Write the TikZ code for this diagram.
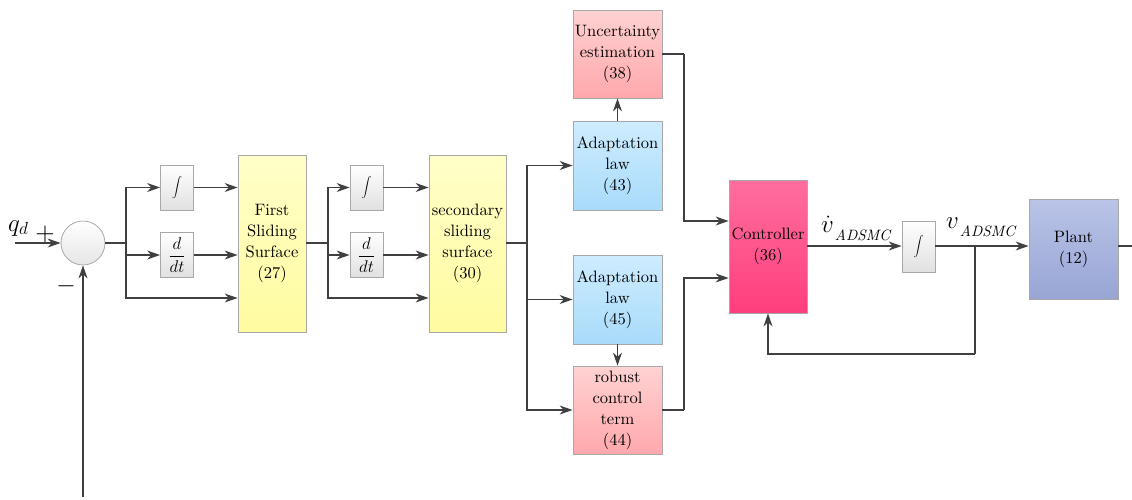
\RequirePackage{fix-cm}
\documentclass[tikz,border=0pt]{standalone}
\usepackage{fontspec}
\setmainfont{lmroman10}[Extension=.otf, UprightFont=*-regular, ItalicFont=*-italic, BoldFont=*-bold]
\usetikzlibrary{arrows.meta}
\definecolor{ln}{HTML}{404040}
\definecolor{bd}{HTML}{A8A8A8}
\tikzset{
  blk/.style={rectangle, draw=bd, line width=0.8pt, inner sep=0pt, align=center,
    font=\fontsize{16.5}{21}\selectfont, text=black},
  smallb/.style={blk, top color=white, bottom color=black!12, minimum width=33pt, minimum height=45pt},
  yel/.style={blk, top color={rgb,255:red,255;green,255;blue,200}, bottom color={rgb,255:red,255;green,251;blue,160}},
  pnk/.style={blk, top color={rgb,255:red,255;green,210;blue,210}, bottom color={rgb,255:red,255;green,168;blue,172}},
  blu/.style={blk, top color={rgb,255:red,206;green,236;blue,255}, bottom color={rgb,255:red,168;green,219;blue,250}},
  mag/.style={blk, top color={rgb,255:red,255;green,110;blue,158}, bottom color={rgb,255:red,255;green,62;blue,126}},
  plt/.style={blk, top color={rgb,255:red,186;green,196;blue,232}, bottom color={rgb,255:red,152;green,165;blue,212}},
  arr/.style={draw=ln, line width=1.3pt, -{Stealth[length=13pt,width=9pt]}},
  wire/.style={draw=ln, line width=1.3pt},
  lbl/.style={inner sep=0pt, font=\fontsize{25}{30}\selectfont}
}
\newcommand{\myint}{\normalsize$\displaystyle\int$}
\newcommand{\myddt}{\fontsize{17}{20}\selectfont$\displaystyle\frac{d}{dt}$}
\newcommand{\subtxt}[1]{\fontsize{15}{16}\selectfont\textit{#1}}
\begin{document}
\begin{tikzpicture}[x=1pt,y=-1pt]
\useasboundingbox (0,0) rectangle (1132,499);
% blocks
\node[circle, draw=bd, line width=0.8pt, top color=white, bottom color=black!10, minimum size=44pt, inner sep=0pt] (sum) at (83,243) {};
\node[smallb] (int1) at (177,187.5) {\myint};
\node[smallb] (dd1) at (177,255) {\myddt};
\node[yel, minimum width=68pt, minimum height=177pt] (fss) at (272,243.5) {First\\Sliding\\Surface\\(27)};
\node[smallb] (int2) at (366.5,187.5) {\myint};
\node[smallb] (dd2) at (366.5,255) {\myddt};
\node[yel, minimum width=77pt, minimum height=177pt] (sss) at (467.5,243.5) {secondary\\sliding\\surface\\(30)};
\node[pnk, minimum width=89pt, minimum height=88pt] (unc) at (617.5,54) {Uncertainty\\estimation\\(38)};
\node[blu, minimum width=89pt, minimum height=89pt] (ad43) at (617.5,165.5) {Adaptation\\law\\(43)};
\node[blu, minimum width=89pt, minimum height=89pt] (ad45) at (617.5,299.5) {Adaptation\\law\\(45)};
\node[pnk, minimum width=89pt, minimum height=88pt] (rob) at (617.5,410) {robust\\control\\term\\(44)};
\node[mag, minimum width=78pt, minimum height=133pt] (ctrl) at (768,246.5) {Controller\\(36)};
\node[smallb, minimum height=51pt] (int3) at (918.5,246.5) {\myint};
\node[plt, minimum width=89pt, minimum height=100pt] (plant) at (1073.5,249) {Plant\\(12)};
% coordinates
\coordinate (in) at (15,243);
\coordinate (fb) at (83,497);
\coordinate (b1) at (126,243);
\coordinate (b2) at (328,243);
\coordinate (b3) at (527,243);
\coordinate (ua) at (684,54);
\coordinate (ra) at (684,410);
\coordinate (b4) at (975,246);
\coordinate (fbb) at (975,354);
\coordinate (out) at (1132,246);
% labels
\node[lbl, anchor=base west] (qd) at (8,231) {$q_d$};
\node[lbl, anchor=base] (plus) at (45,240) {+};
\node[lbl, anchor=base] (minus) at (66,292) {$-$};
\node[lbl, anchor=base west] (vd) at (821,232) {$\dot{v}$\hspace{1pt}\raisebox{-8pt}{\subtxt{ADSMC}}};
\node[lbl, anchor=base west] (vv) at (946,228) {$v$\hspace{1pt}\raisebox{-8pt}{\subtxt{ADSMC}}};
% connectors
\draw[arr] (in) -- (sum.west);
\draw[arr] (fb) -- (sum.south);
\draw[wire] (sum.east) -- (b1);
\draw[arr] (b1) |- (int1.west);
\draw[arr] (b1) |- (dd1.west);
\draw[arr] (b1) |- (fss.west |- 0,298);
\draw[arr] (int1.east) -- (int1.east -| fss.west);
\draw[arr] (dd1.east) -- (dd1.east -| fss.west);
\draw[wire] (fss.east |- b2) -- (b2);
\draw[arr] (b2) |- (int2.west);
\draw[arr] (b2) |- (dd2.west);
\draw[arr] (b2) |- (sss.west |- 0,298);
\draw[arr] (int2.east) -- (int2.east -| sss.west);
\draw[arr] (dd2.east) -- (dd2.east -| sss.west);
\draw[wire] (sss.east |- b3) -- (b3);
\draw[arr] (b3) |- (ad43.west);
\draw[arr] (b3) |- (ad45.west);
\draw[arr] (b3) |- (rob.west);
\draw[arr] (ad43.north) -- (unc.south);
\draw[arr] (ad45.south) -- (rob.north);
\draw[wire] (unc.east |- ua) -- (ua);
\draw[arr] (ua) |- (ctrl.west |- 0,221);
\draw[wire] (rob.east |- ra) -- (ra);
\draw[arr] (ra) |- (ctrl.west |- 0,278);
\draw[arr] (ctrl.east |- b4) -- (int3.west |- b4);
\draw[wire] (int3.east |- b4) -- (b4);
\draw[arr] (b4) -- (plant.west |- b4);
\draw[wire] (b4) -- (fbb);
\draw[arr] (fbb) -| (ctrl.south);
\draw[wire] (plant.east |- out) -- (out);
\end{tikzpicture}
\end{document}
